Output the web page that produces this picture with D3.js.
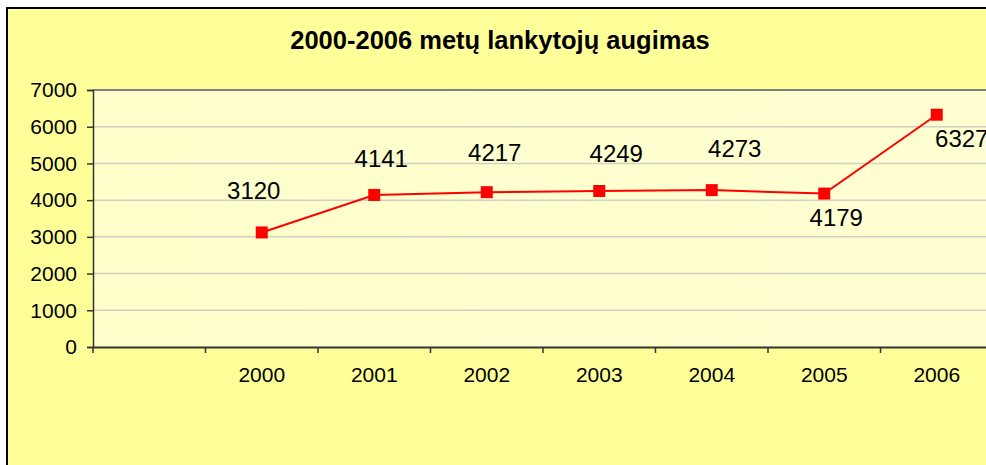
<!DOCTYPE html>
<html lang="lt">
    <head>
        <meta charset="utf-8">
        <title>2000-2006 metų lankytojų augimas</title>
        <script src="https://d3js.org/d3.v7.min.js"></script>
        <style type="text/css">
            body { margin: 0; background: #fff; }
            text { font-family: "Liberation Sans", Arial, sans-serif; fill: #000; }
        </style>
    </head>
    <body>
        <svg id="chart" width="986" height="465"></svg>
        <script>
            // data
            var categories = ['', '2000', '2001', '2002', '2003', '2004', '2005', '2006'];
            var years = ['2000', '2001', '2002', '2003', '2004', '2005', '2006'];
            var visitors = [3120, 4141, 4217, 4249, 4273, 4179, 6327];
            var yTicks = [0, 1000, 2000, 3000, 4000, 5000, 6000, 7000];
            var title = '2000-2006 metų lankytojų augimas';

            // label placement (dx, dy from marker), like the hand moved Excel labels
            var labelOffsets = [[-8, -33], [7, -28], [8, -31], [17, -29], [23, -33], [12, 32], [25, 32]];

            var svg = d3.select('#chart');

            //outer chart area
            svg.append('rect')
                .attr('x', 7).attr('y', 8)
                .attr('width', 1000).attr('height', 470)
                .attr('fill', '#ffff99')
                .attr('stroke', '#000')
                .attr('stroke-width', 2);

            var plotLeft = 93, plotTop = 90, plotBottom = 347, plotRight = 993;

            var defs = svg.append('defs');
            var grad = defs.append('linearGradient')
                .attr('id', 'plotfill')
                .attr('x1', 0).attr('y1', 0).attr('x2', 1).attr('y2', 0);
            grad.append('stop').attr('offset', 0).attr('stop-color', '#ffffcc');
            grad.append('stop').attr('offset', 1).attr('stop-color', '#ffffd2');

            svg.append('rect')
                .attr('x', plotLeft).attr('y', plotTop)
                .attr('width', plotRight - plotLeft).attr('height', plotBottom - plotTop)
                .attr('fill', 'url(#plotfill)');

            var xScale = d3.scaleBand()
                .domain(categories)
                .range([plotLeft, plotRight]);

            var yScale = d3.scaleLinear()
                .domain([0, 7000])
                .range([plotBottom, plotTop]);

            //gridlines
            svg.selectAll('.grid')
                .data(yTicks.filter(function(d) { return d > 0 && d < 7000; }))
                .enter()
                .append('line')
                .attr('class', 'grid')
                .attr('x1', plotLeft).attr('x2', plotRight)
                .attr('y1', function(d) { return yScale(d); })
                .attr('y2', function(d) { return yScale(d); })
                .attr('stroke', '#cfcfc4')
                .attr('stroke-width', 1.5);

            //top border of plot
            svg.append('line')
                .attr('x1', plotLeft).attr('x2', plotRight)
                .attr('y1', plotTop).attr('y2', plotTop)
                .attr('stroke', '#808080')
                .attr('stroke-width', 2);

            //Y axis
            var yAxis = d3.axisLeft(yScale)
                .tickValues(yTicks)
                .tickFormat(d3.format('d'))
                .tickSize(6)
                .tickPadding(10);
            var gy = svg.append('g')
                .attr('transform', 'translate(' + plotLeft + ',0)')
                .call(yAxis);
            gy.select('.domain').attr('stroke', '#333').attr('stroke-width', 1.5);
            gy.selectAll('.tick line').attr('stroke', '#333').attr('stroke-width', 1.5);
            gy.selectAll('.tick text')
                .attr('font-size', 21)
                .attr('font-family', '"Liberation Sans", Arial, sans-serif')
                .attr('fill', '#000');

            //X axis
            var xAxis = d3.axisBottom(xScale)
                .tickSize(0)
                .tickPadding(20);
            var gx = svg.append('g')
                .attr('transform', 'translate(0,' + plotBottom + ')')
                .call(xAxis);
            gx.select('.domain').attr('stroke', '#333').attr('stroke-width', 2);
            gx.selectAll('.tick text')
                .attr('font-size', 21)
                .attr('font-family', '"Liberation Sans", Arial, sans-serif')
                .attr('fill', '#000');

            //category boundary ticks
            gx.selectAll('.bound')
                .data(categories)
                .enter()
                .append('line')
                .attr('class', 'bound')
                .attr('x1', function(d) { return xScale(d); })
                .attr('x2', function(d) { return xScale(d); })
                .attr('y1', 0).attr('y2', 6)
                .attr('stroke', '#333')
                .attr('stroke-width', 1.5);

            var cx = function(d, i) { return xScale(years[i]) + xScale.bandwidth() / 2; };
            var cy = function(d) { return yScale(d); };

            //line
            var line = d3.line()
                .x(cx)
                .y(cy);
            svg.append('path')
                .datum(visitors)
                .attr('d', line)
                .attr('fill', 'none')
                .attr('stroke', '#ff0000')
                .attr('stroke-width', 2);

            //markers
            svg.selectAll('.marker')
                .data(visitors)
                .enter()
                .append('rect')
                .attr('class', 'marker')
                .attr('x', function(d, i) { return cx(d, i) - 6; })
                .attr('y', function(d) { return cy(d) - 6; })
                .attr('width', 12).attr('height', 12)
                .attr('fill', '#ff0000');

            //data labels
            svg.selectAll('.dlabel')
                .data(visitors)
                .enter()
                .append('text')
                .attr('class', 'dlabel')
                .attr('x', function(d, i) { return cx(d, i) + labelOffsets[i][0]; })
                .attr('y', function(d, i) { return cy(d) + labelOffsets[i][1]; })
                .attr('text-anchor', 'middle')
                .attr('font-size', 24)
                .text(function(d) { return d; });

            //title
            svg.append('text')
                .attr('x', 500)
                .attr('y', 49)
                .attr('text-anchor', 'middle')
                .attr('font-size', 25.5)
                .attr('font-weight', 'bold')
                .text(title);
        </script>
    </body>
</html>
